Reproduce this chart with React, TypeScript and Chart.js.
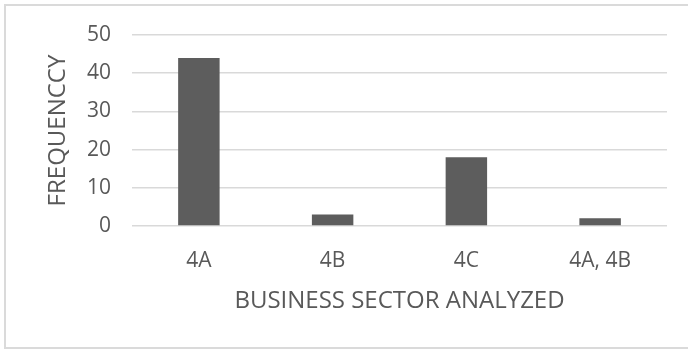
import React, { useEffect, useRef } from "react";
import { Chart, registerables } from "chart.js";

Chart.register(...registerables);

const categories = ["4A", "4B", "4C", "4A, 4B"];
const frequency = [44, 3, 18, 2];
const yTicks = [0, 10, 20, 30, 40, 50];
const xTitle = "BUSINESS SECTOR ANALYZED";
const yTitle = "FREQUENCCY";

const FONT = "'Open Sans', sans-serif";
const TEXT = "#595959";

export default function App() {
  const ref = useRef<HTMLCanvasElement>(null);

  useEffect(() => {
    const chart = new Chart(ref.current as HTMLCanvasElement, {
      type: "bar",
      data: {
        labels: categories,
        datasets: [
          {
            data: frequency,
            backgroundColor: "#5d5d5d",
            barPercentage: 0.31,
            categoryPercentage: 1,
          },
        ],
      },
      options: {
        responsive: false,
        animation: false,
        layout: { padding: { top: 35, right: 21, bottom: 0, left: 0 } },
        plugins: {
          legend: { display: false },
          tooltip: { enabled: false },
        },
        scales: {
          x: {
            grid: { display: false, drawTicks: false },
            border: { display: false },
            ticks: { color: TEXT, font: { family: FONT, size: 21 }, padding: 22 },
            title: {
              display: true,
              text: xTitle,
              color: TEXT,
              font: { family: FONT, size: 24 },
              padding: { top: 0, bottom: 34 },
            },
            afterFit: (s: any) => {
              s.height = 124;
            },
          },
          y: {
            min: 0,
            max: 50,
            afterBuildTicks: (s: any) => {
              s.ticks = yTicks.map((v) => ({ value: v }));
            },
            grid: { color: "#d9d9d9", lineWidth: 1.5, drawTicks: false },
            border: { display: false },
            ticks: { color: TEXT, font: { family: FONT, size: 21 }, padding: 21 },
            title: {
              display: true,
              text: yTitle,
              color: TEXT,
              font: { family: FONT, size: 24 },
              padding: { top: 44, bottom: 0 },
            },
            afterFit: (s: any) => {
              s.width = 132;
            },
          },
        },
      },
    });
    return () => chart.destroy();
  }, []);

  return (
    <div
      style={{
        position: "fixed",
        left: 0,
        top: 0,
        width: 688,
        height: 350,
        overflow: "hidden",
        background: "#ffffff",
      }}
    >
      <div
        style={{
          position: "absolute",
          left: 4,
          top: 4,
          width: 720,
          height: 345,
          boxSizing: "border-box",
          border: "2px solid #dadada",
        }}
      />
      <canvas
        ref={ref}
        width={688}
        height={350}
        style={{ position: "absolute", left: 0, top: 0 }}
      />
    </div>
  );
}
